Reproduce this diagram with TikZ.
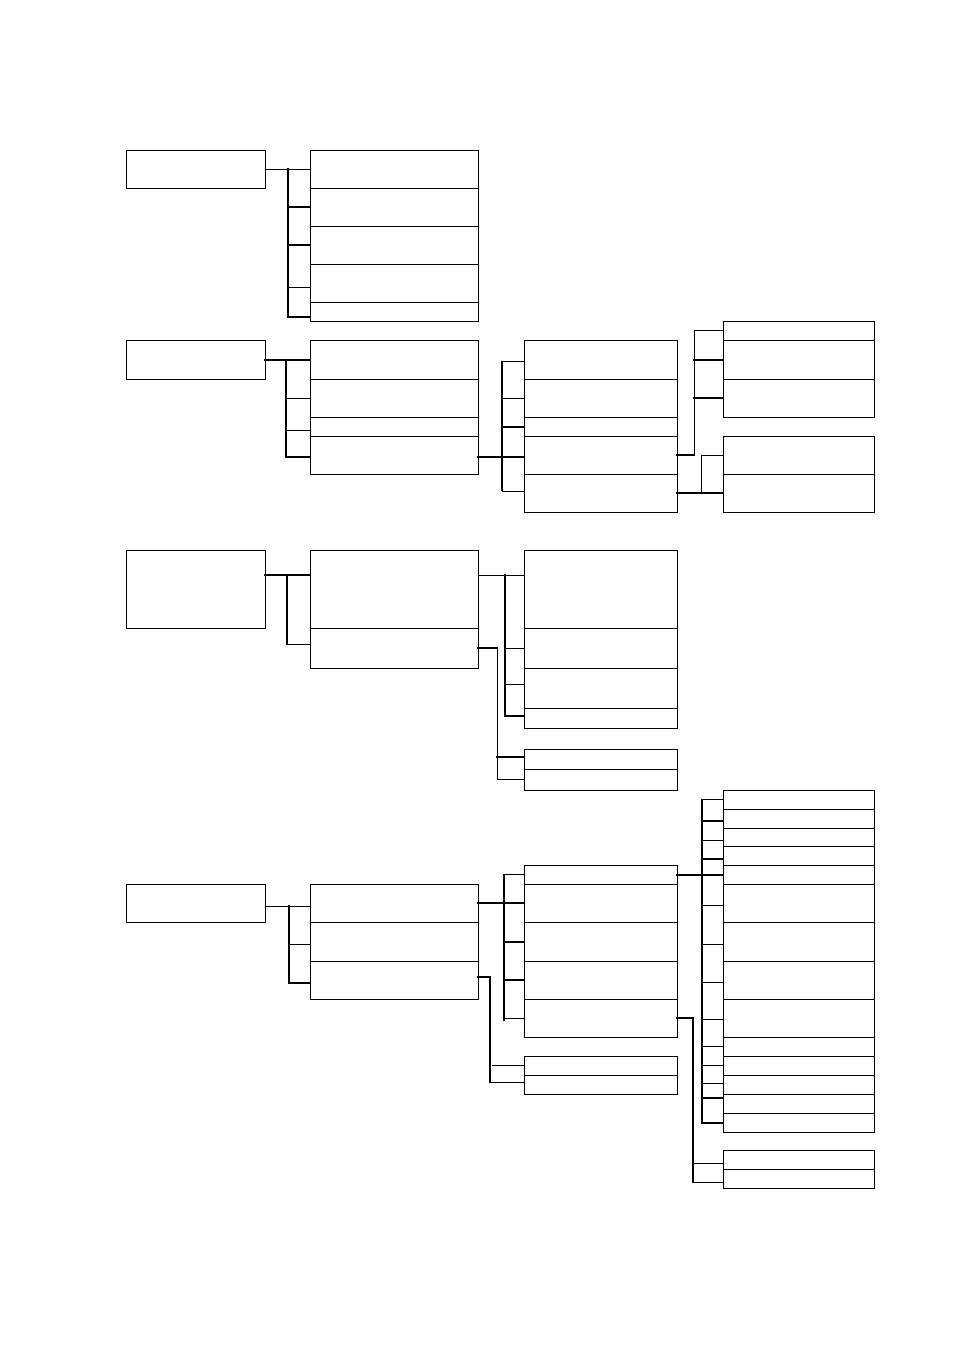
\documentclass[tikz,border=0pt]{standalone}
\usepackage{tikz}
\begin{document}
\begin{tikzpicture}[x=1pt,y=-1pt,
    box/.style={draw,line width=1pt,rectangle,anchor=north west,inner sep=0pt,outer sep=0pt},
    wire/.style={line width=1pt},
    spine/.style={line width=2pt,line cap=rect}]
  \useasboundingbox (0,0) rectangle (954,1350);
  % roots
  \node[box,minimum width=139,minimum height=38] (r1) at (126,150) {};
  \node[box,minimum width=139,minimum height=39] (r2) at (126,340) {};
  \node[box,minimum width=139,minimum height=78] (r3) at (126,550) {};
  \node[box,minimum width=139,minimum height=38] (r4) at (126,884) {};
  % second column
  \foreach \t/\b [count=\i] in {150/188,188/226,226/264,264/302,302/321}
    \node[box,minimum width=168,minimum height={\b-\t}] (a\i) at (310,\t) {};
  \foreach \t/\b [count=\i] in {340/379,379/417,417/436,436/474}
    \node[box,minimum width=168,minimum height={\b-\t}] (b\i) at (310,\t) {};
  \foreach \t/\b [count=\i] in {550/628,628/668}
    \node[box,minimum width=168,minimum height={\b-\t}] (c\i) at (310,\t) {};
  \foreach \t/\b [count=\i] in {884/922,922/961,961/999}
    \node[box,minimum width=168,minimum height={\b-\t}] (d\i) at (310,\t) {};
  % third column
  \foreach \t/\b [count=\i] in {340/379,379/417,417/436,436/474,474/512}
    \node[box,minimum width=153,minimum height={\b-\t}] (e\i) at (524,\t) {};
  \foreach \t/\b [count=\i] in {550/628,628/668,668/708,708/728}
    \node[box,minimum width=153,minimum height={\b-\t}] (f\i) at (524,\t) {};
  \foreach \t/\b [count=\i] in {749/769,769/790}
    \node[box,minimum width=153,minimum height={\b-\t}] (h\i) at (524,\t) {};
  \foreach \t/\b [count=\i] in {865/884,884/922,922/961,961/999,999/1037}
    \node[box,minimum width=153,minimum height={\b-\t}] (k\i) at (524,\t) {};
  \foreach \t/\b [count=\i] in {1056/1075,1075/1094}
    \node[box,minimum width=153,minimum height={\b-\t}] (m\i) at (524,\t) {};
  % fourth column
  \foreach \t/\b [count=\i] in {321/340,340/379,379/417}
    \node[box,minimum width=151,minimum height={\b-\t}] (u\i) at (723,\t) {};
  \foreach \t/\b [count=\i] in {436/474,474/512}
    \node[box,minimum width=151,minimum height={\b-\t}] (v\i) at (723,\t) {};
  \foreach \t/\b [count=\i] in {790/809,809/828,828/846,846/865,865/884,884/922,922/961,
      961/999,999/1037,1037/1056,1056/1075,1075/1094,1094/1113,1113/1132}
    \node[box,minimum width=151,minimum height={\b-\t}] (w\i) at (723,\t) {};
  \foreach \t/\b [count=\i] in {1150/1169,1169/1188}
    \node[box,minimum width=151,minimum height={\b-\t}] (z\i) at (723,\t) {};

  % group 1
  \draw[wire] (r1.east) -- (a1.west);
  \coordinate (a1j) at ([xshift=-22pt]a1.west);
  \draw[spine] (a2.west) -- ++(-22,0);
  \draw[spine] (a3.west) -- ++(-22,0);
  \draw[wire] ([yshift=-4pt]a4.west) -- ++(-22,0);
  \draw[spine] ([yshift=-5.5pt]a5.west) -- ++(-22,0) coordinate (a5j);
  \draw[spine] (a1j) -- (a5j);

  % group 2
  \draw[spine] (r2.east) -- (b1.west);
  \coordinate (b1j) at ([xshift=-24pt]b1.west);
  \draw[wire] (b2.west) -- ++(-24,0);
  \draw[wire] ([yshift=-3.5pt]b3.west) -- ++(-24,0);
  \draw[spine] ([yshift=-2pt]b4.west) -- ++(-24,0) coordinate (b4j);
  \draw[spine] (b1j) -- (b4j);

  \draw[spine] ([yshift=-2pt]b4.east) -- ([yshift=-2pt]e4.west);
  \draw[wire] ([yshift=-1.5pt]e1.west) -- ++(-22,0) coordinate (e1j);
  \draw[wire] (e2.west) -- ++(-22,0);
  \draw[spine] (e3.west) -- ++(-22,0);
  \draw[wire] ([yshift=2pt]e5.west) -- ++(-22,0) coordinate (e5j);
  \draw[line width=1.6pt] (e1j) -- (e5j);

  \draw[spine] (e4.east) -- ++(17,0) coordinate (e4k);
  \draw[wire] (u1.west) -- ++(-29,0) coordinate (u1j);
  \draw[spine] (u2.west) -- ++(-29,0);
  \draw[spine] (u3.west) -- ++(-29,0);
  \draw[wire] (u1j) -- (e4k);

  \draw[spine] (e5.east) -- (v2.west);
  \draw[wire] (v1.west) -- ++(-22,0) coordinate (v1j);
  \draw[wire] (v1j) -- (v1j |- v2.west);

  % group 3
  \draw[spine] ([yshift=14pt]r3.east) -- ([yshift=14pt]c1.west);
  \coordinate (c1j) at ([xshift=-23pt,yshift=14pt]c1.west);
  \draw[wire] ([yshift=4pt]c2.west) -- ++(-23,0) coordinate (c2j);
  \draw[spine] (c1j) -- (c2j);

  \draw[wire] ([yshift=14pt]c1.east) -- ([yshift=14pt]f1.west);
  \coordinate (f1j) at ([xshift=-19pt,yshift=14pt]f1.west);
  \draw[wire] (f2.west) -- ++(-19,0);
  \draw[wire] ([yshift=4pt]f3.west) -- ++(-19,0);
  \draw[spine] ([yshift=2pt]f4.west) -- ++(-19,0) coordinate (f4j);
  \draw[spine] (f1j) -- (f4j);

  \draw[spine] (c2.east) -- ++(19,0) coordinate (c2k);
  \draw[spine] ([yshift=2pt]h1.west) -- ++(-27,0);
  \draw[wire] (h2.west) -- ++(-27,0) coordinate (h2j);
  \draw[wire] (c2k) -- (h2j);

  % group 4
  \draw[wire] ([yshift=-3pt]r4.east) -- ([yshift=-3pt]d1.west);
  \coordinate (d1j) at ([xshift=-21pt,yshift=-3pt]d1.west);
  \draw[wire] ([yshift=-2.5pt]d2.west) -- ++(-21,0);
  \draw[spine] ([yshift=-3pt]d3.west) -- ++(-21,0) coordinate (d3j);
  \draw[spine] (d1j) -- (d3j);

  \draw[spine] (d1.east) -- (k2.west);
  \draw[wire] (k1.west) -- ++(-20,0) coordinate (k1j);
  \draw[spine] (k3.west) -- ++(-20,0);
  \draw[spine] (k4.west) -- ++(-20,0);
  \draw[wire] (k5.west) -- ++(-20,0) coordinate (k5j);
  \draw[spine] (k1j) -- ([yshift=-2pt]k5j);

  \draw[spine] ([yshift=3pt]d3.east) -- ++(12,0) coordinate (d3k);
  \draw[wire] (m1.west) -- ++(-32,0);
  \draw[wire] ([yshift=2.5pt]m2.west) -- ++(-34,0) coordinate (m2j);
  \draw[spine] (d3k) -- (m2j);

  \draw[spine] (k1.east) -- (w5.west);
  \draw[wire] (w1.west) -- ++(-21,0) coordinate (w1j);
  \foreach \i/\s/\st in {2/-2.5/spine,3/-3/wire,4/-3.5/spine,6/-2.5/wire,7/-2.5/wire,
      8/-2/wire,9/-1/wire,10/0/wire,11/0/wire,12/1.5/wire,13/5.5/spine}
    \draw[\st] ([yshift=\s pt]w\i.west) -- ++(-21,0);
  \draw[spine] (w14.west) -- ++(-21,0) coordinate (w14j);
  \draw[spine] (w1j) -- (w14j);

  \draw[spine] (k5.east) -- ++(16,0) coordinate (k5k);
  \draw[wire] ([yshift=-3.5pt]z1.west) -- ++(-30,0);
  \draw[wire] ([yshift=-3.5pt]z2.west) -- ++(-30,0) coordinate (z2j);
  \draw[spine] (k5k) -- (z2j);
\end{tikzpicture}
\end{document}
